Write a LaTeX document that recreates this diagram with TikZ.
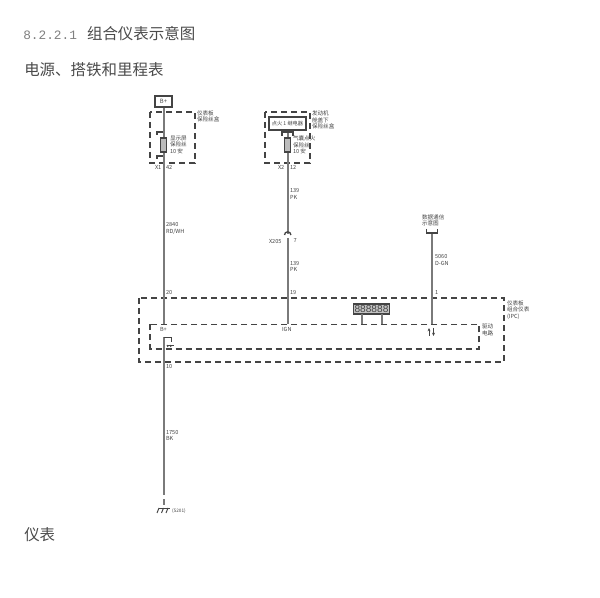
\documentclass[tikz,border=0pt]{standalone}
\usepackage{fontspec}
\setmainfont{Liberation Sans}
\newfontfamily\cjk{Noto Sans CJK SC}
\newfontfamily\headnum{Liberation Mono}
\usetikzlibrary{arrows.meta}
\definecolor{wirec}{HTML}{7A7A7A}
\definecolor{framec}{HTML}{444444}
\definecolor{headc}{HTML}{4A4A4A}
\tikzset{
  x=0.75pt,y=-0.75pt,
  wire/.style={draw=wirec,line width=1.5pt},
  dashbox/.style={draw=framec,line width=0.9pt,dash pattern=on 4.5pt off 3pt},
  tiny/.style={inner sep=0pt,outer sep=0pt,anchor=west,text=framec,font=\fontsize{4.2}{5}\selectfont\cjk,align=left},
  head/.style={inner sep=0pt,anchor=west,text=headc,font=\fontsize{11.6}{14}\selectfont\cjk},
  thickbox/.style={draw=framec,line width=1.5pt,fill=white,inner sep=0pt,text=framec,font=\fontsize{3.9}{5}\selectfont\cjk},
  fuse/.style={draw=framec,line width=0.8pt,fill=wirec!50,minimum width=4.4pt,minimum height=10.5pt,inner sep=0pt},
  thin/.style={draw=framec,line width=0.7pt},
}
\begin{document}
\begin{tikzpicture}
\useasboundingbox (0,0) rectangle (600,598);
% headings
\node[head] (h1) at (23,34) {{\headnum\fontsize{9.6}{14}\selectfont\color{gray}8.2.2.1}\hspace{7.5pt}组合仪表示意图};
\node[head] (h2) at (24,70) {电源、搭铁和里程表};
\node[head] (h3) at (24,535) {仪表};
% coordinates on frames
\coordinate (ipcB) at (163.5,324);
\coordinate (ipcI) at (287.5,324);
\coordinate (ipcD) at (431.5,324);
\coordinate (gtop) at (163.5,337);
\coordinate (gend) at (163.5,490);
\coordinate (gdash) at (163.5,506);
% dashed frames
\draw[dashbox] (150,112) rectangle (195,163);
\draw[dashbox] (265,112) rectangle (310,163);
\draw[dashbox] (139,298) rectangle (504,362);
\draw[dashbox] (150,324.5) rectangle (479,349);
% B+ box
\node[thickbox,minimum width=12.6pt,minimum height=8.2pt,font=\fontsize{4.4}{5}\selectfont\cjk] (bplus) at (163.5,101.5) {B+};
% relay
\node[thickbox,minimum width=27.5pt,minimum height=9.5pt] (relay) at (287.5,123.5) {点火 1 继电器};
% wires
\draw[wire] (bplus.south) -- (ipcB);
\draw[wire] (relay.south) -- (287.5,234);
\draw[wire] (287.5,238) -- (ipcI);
\draw[wire] (ipcD) -- (431.5,234);
\draw[wire] (gtop) -- (gend);
\draw[wire,dash pattern=on 4pt off 3pt] (gend) -- (gdash);
% fuses
\node[fuse] (f1) at (163.5,145) {};
\node[fuse] (f2) at (287.5,145) {};
% fuse switch ticks
\draw[thin,line width=1pt] (157,135) -- (157,132) -- (163,132);
\draw[thin,line width=1pt] (157,159) -- (157,156) -- (163,156);
% relay bracket
\draw[thin,line width=1pt] (282,136) -- (282,132) -- (293,132) -- (293,136);
% X205 connector
\draw[thin,line width=1pt] (284.5,235) arc[start angle=180,end angle=360,radius=3.2];
% data bracket
\draw[thin,line width=1pt] (426.5,229) -- (426.5,233) -- (437.5,233) -- (437.5,229);
% display
\node[draw=framec,line width=0.9pt,fill=wirec!45,minimum width=27.5pt,minimum height=7.5pt,inner sep=0pt,text=framec,font=\fontsize{7.6}{7}\selectfont] (disp) at (371.5,309) {888888};
\draw[wire,line width=1pt] (362,314) -- (362,324);
\draw[wire,line width=1pt] (382,314) -- (382,324);
% data arrows
\draw[thin,-{Stealth[length=2.5pt,width=2.2pt]}] (429,336) -- (429,328);
\draw[thin,-{Stealth[length=2.5pt,width=2.2pt]}] (433.5,328) -- (433.5,336);
% ground stub
\draw[thin] (163.5,337) -- (171,337) -- (171,342);
\draw[thin] (167,345) -- (174,345);
\draw[thin] (168,347) -- (167,345) (171,347) -- (170,345);
% ground symbol
\draw[thin] (159,508) -- (170,508);
\draw[thin] (159,508) -- (157,513);
\draw[thin] (163.5,508) -- (161.5,513);
\draw[thin] (168,508) -- (166,513);
% labels
\node[tiny] (l1) at (197,116.5) {仪表板\\保险丝盒};
\node[tiny] (l2) at (170,145) {显示屏\\保险丝\\10 安};
\node[tiny] (l3) at (155,167) {X1};
\node[tiny] (l4) at (166,167) {42};
\node[tiny] (l5) at (312,120) {发动机\\舱盖下\\保险丝盒};
\node[tiny] (l6) at (293,145) {气囊点火\\保险丝\\10 安};
\node[tiny] (l7) at (278,167) {X2};
\node[tiny] (l8) at (290,167) {12};
\node[tiny] (l9) at (290,194) {139\\PK};
\node[tiny] (l10) at (166,228.5) {2840\\RD/WH};
\node[tiny] (l11) at (269,241) {X205};
\node[tiny] (l12) at (293.5,241) {7};
\node[tiny] (l13) at (290,266.5) {139\\PK};
\node[tiny] (l14) at (166,293) {20};
\node[tiny] (l15) at (290,293) {19};
\node[tiny] (l16) at (435,292.5) {1};
\node[tiny] (l17) at (435,260) {5060\\D-GN};
\node[tiny] (l18) at (422,220.5) {数据通信\\示意图};
\node[tiny] (l19) at (507,310) {仪表板\\组合仪表\\(IPC)};
\node[tiny] (l20) at (482,330) {驱动\\电路};
\node[tiny] (l21) at (160,329.5) {B+};
\node[tiny] (l22) at (282,329.5) {IGN};
\node[tiny] (l23) at (166,367) {10};
\node[tiny] (l24) at (166,435.5) {1750\\BK};
\node[tiny,font=\fontsize{3.5}{5}\selectfont\cjk] (l25) at (172,511.5) {(S201)};
\end{tikzpicture}
\end{document}
